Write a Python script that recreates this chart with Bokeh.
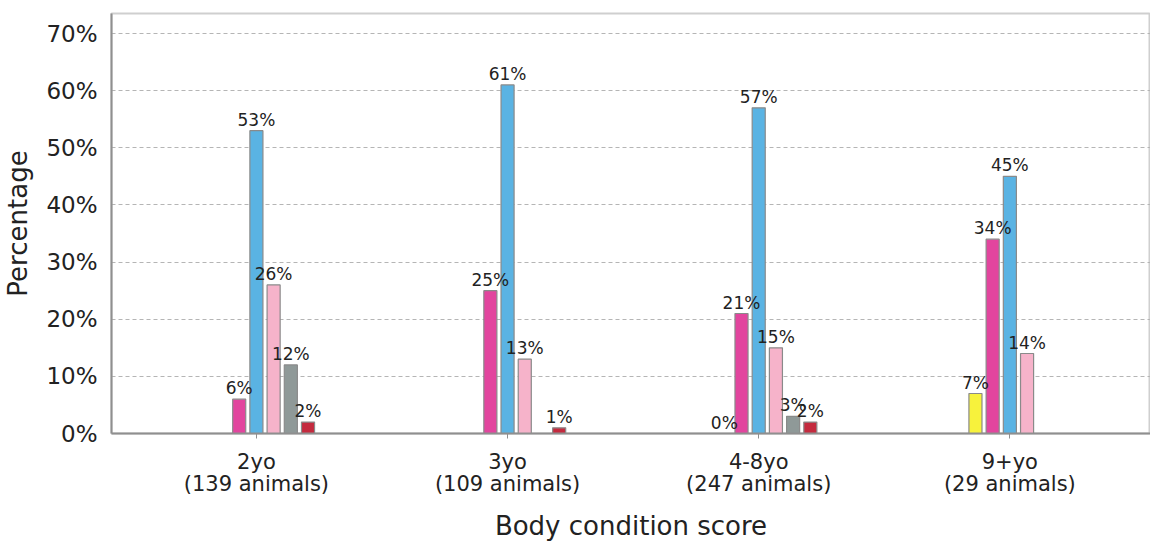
import math
from bokeh.plotting import figure
from bokeh.models import ColumnDataSource, Range1d, FixedTicker, PrintfTickFormatter, LabelSet
from bokeh.transform import dodge
from bokeh.core.properties import value
from bokeh.embed import file_html
from bokeh.resources import INLINE

nan = float("nan")

# ---- data ----
groups = ["2yo\n(139 animals)", "3yo\n(109 animals)", "4-8yo\n(247 animals)", "9+yo\n(29 animals)"]
series_names = ["yellow", "magenta", "blue", "pink", "gray", "red"]
yellow = [nan, nan, 0, 7]
magenta = [6, 25, 21, 34]
blue = [53, 61, 57, 45]
pink = [26, 13, 15, 14]
gray = [12, nan, 3, nan]
red = [2, 1, 2, nan]
y_ticks = [0, 10, 20, 30, 40, 50, 60, 70]

series_values = [yellow, magenta, blue, pink, gray, red]
colors = ["#f7f23c", "#e2459e", "#5ab3e3", "#f6b3ca", "#8f9998", "#c42a3e"]
offsets = [-2, -1, 0, 1, 2, 3]
step = 0.0685
bar_w = 0.052
FONT = "DejaVu Sans"

p = figure(width=1150, height=544,
           x_range=Range1d(-0.577, 3.56), y_range=Range1d(0, 73.5),
           output_backend="svg", toolbar_location=None,
           min_border_left=108, min_border_right=0, min_border_top=13, min_border_bottom=108)
p.background_fill_color = "white"
p.border_fill_color = "white"
p.outline_line_color = "#cfcfcf"
p.outline_line_width = 2

for name, vals, col, off in zip(series_names, series_values, colors, offsets):
    xs = [i for i, v in enumerate(vals) if not math.isnan(v)]
    ys = [v for v in vals if not math.isnan(v)]
    labels = ["%d%%" % round(v) for v in ys]
    src = ColumnDataSource(dict(x=xs, y=ys, label=labels))
    p.vbar(x=dodge("x", off * step, range=p.x_range), top="y", width=bar_w, source=src,
           fill_color=col, line_color="#8a8a8a", line_width=1.2)
    lab = LabelSet(x=dodge("x", off * step, range=p.x_range), y="y", text="label", source=src,
                   text_align="center", text_baseline="bottom", y_offset=1,
                   text_font=value(FONT), text_font_size="17px", text_color="#222222")
    p.add_layout(lab)

p.xgrid.grid_line_color = None
p.ygrid.ticker = FixedTicker(ticks=y_ticks)
p.ygrid.grid_line_color = "#b5b5b5"
p.ygrid.grid_line_dash = "4 3"
p.ygrid.grid_line_width = 1

p.yaxis.ticker = FixedTicker(ticks=y_ticks)
p.yaxis.formatter = PrintfTickFormatter(format="%d%%")
p.yaxis.axis_label = "Percentage"
p.xaxis.axis_label = "Body condition score"
p.xaxis.ticker = FixedTicker(ticks=list(range(len(groups))))
p.xaxis.major_label_overrides = {i: g for i, g in enumerate(groups)}

for ax in (p.xaxis[0], p.yaxis[0]):
    ax.axis_line_color = "#8f8f8f"
    ax.axis_line_width = 2
    ax.major_tick_line_color = "#8f8f8f"
    ax.minor_tick_line_color = None
    ax.major_tick_in = 0
    ax.axis_label_text_font = FONT
    ax.axis_label_text_font_style = "normal"
    ax.axis_label_text_color = "#222222"
    ax.major_label_text_font = FONT
    ax.major_label_text_color = "#222222"

p.yaxis.major_tick_out = 0
p.yaxis.major_label_text_font_size = "23px"
p.yaxis.major_label_standoff = 14
p.yaxis.axis_label_text_font_size = "26px"
p.yaxis.axis_label_standoff = 10

p.xaxis.major_tick_out = 5
p.xaxis.major_label_text_font_size = "21px"
p.xaxis.major_label_text_line_height = 0.95
p.xaxis.major_label_standoff = 11
p.xaxis.axis_label_text_font_size = "26px"
p.xaxis.axis_label_standoff = 12

open("out.html", "w").write(file_html(p, INLINE))
